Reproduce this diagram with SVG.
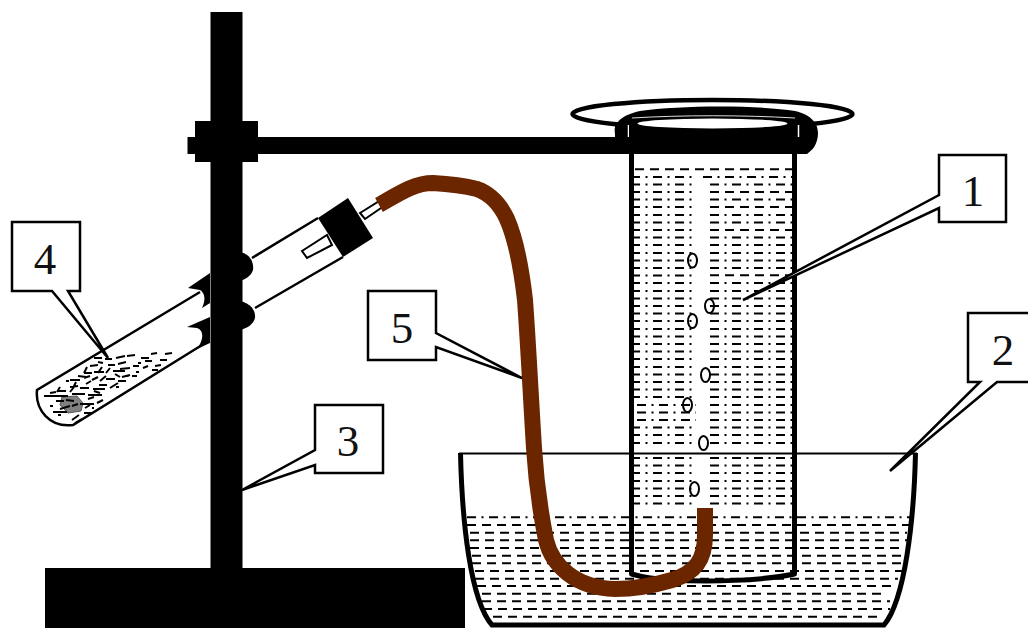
<svg xmlns="http://www.w3.org/2000/svg" width="1028" height="628" viewBox="0 0 1028 628">
<style>
.k{fill:#000}
.o{fill:none;stroke:#000}
.dd{fill:none;stroke:#000;stroke-width:2;stroke-dasharray:9 5.5 2 5.5}
.ds{fill:none;stroke:#000;stroke-width:2;stroke-dasharray:9 6}
.p{fill:none;stroke:#000;stroke-width:2}
.c{fill:#fff;stroke:#000;stroke-width:2.5;stroke-linejoin:miter}
.t{font-family:"Liberation Serif","Times New Roman",serif;font-size:45px;fill:#111;text-anchor:middle}
</style>
<defs><clipPath id="tc"><path d="M37 390L176 306L202 345L73 425C50 428 35 410 37 390Z"/></clipPath></defs>
<rect width="1028" height="628" fill="#fff"/>

<g id="stand">
<rect class="k" x="210.500" y="12" width="32" height="558"/>
<rect class="k" x="45" y="568" width="420" height="60"/>
<rect class="k" x="195" y="121" width="63" height="41"/>
<rect class="k" x="187.500" y="137" width="620" height="17"/>
</g>

<g id="test-tube">
<path class="o" stroke-width="2.500" d="M318 218L252 258M200 292L37 390C35 410 50 428 73 425L202 345M255 308L343 257"/>
<path d="M302 251L327 235L332 245L307 258Z" fill="#fff" stroke="#000" stroke-width="2"/>
<path class="k" d="M318 218L348 198L373 238L343 257Z"/>
<path d="M360 213L381 200L384 206L365 219Z" fill="#fff" stroke="#000" stroke-width="2"/>
<path class="k" d="M210 273L188 288L200 290C205 293 206 300 202 308L210 303V317L187 327L197 328C203 330 205 338 197 349L210 343V300Z"/>
<path class="k" d="M240 252C250 254 254 262 253 270C251 276 246 279 240 281Z"/>
<path class="k" d="M240 301C250 303 256 310 255 318C253 325 247 328 240 330Z"/>
<g clip-path="url(#tc)">
<path d="M62 397L77 396L83 403L81 411L68 413L60 405Z" fill="#808080" stroke="#555" stroke-width="1"/>
<path class="p" d="M94 358h8M105 359h7M116 358l9-2M127 356l8-1M141 358h8M145 361h7M151 354l6-1M165 354l7-1M160 360h7M90 366l8-1M108 365h7M118 364l8-2M133 366h6M143 368l5-2M155 366l6-1M84 373h8M94 372h10M113 371h12M120 369l10-1M136 372h3M152 370h6M87 367l-3 6M102 367l-4 6M110 368l-4 5M66 381h3M70 380h10M84 378l6-2M92 380l6-3M100 381l6-5M106 379h9M118 381h8M122 377l8-2M132 376h5M70 387l8-1M58 391h8M60 387l-3 5M70 392l4-5M80 388h9M86 384l5-3M93 389h12M99 385h8M110 388l8-5M116 387h3M44 396h24M50 393l6-1M72 394h13M88 395h14M94 391l6 2M56 401h8M80 404h14M88 399l6-2M97 403l6-3M53 412h14M50 406h3M60 409l10-3M66 400l8 1M72 406l6-2M84 413h10M85 408l5-3M72 420l7-5M75 423l7-4M87 417l8-5M58 415h3M92 408h2M78 376l8 1M98 362l5 1M125 376h4M76 382l-3 6M115 374l5 3M138 363h3"/>
</g>
</g>

<g id="bath">
<path class="dd" d="M467 517.300H910"/>
<path class="ds" d="M467 525H910M470 532.700H907M470 540.300H907M470 548H903M472 555.700H903M472 563.300H903M475 571H902M475 578.700H898M477 586H897M482 593.700H883M482 601.300H890M483 609H890M493 616.700H880"/>
<path class="o" stroke-width="5" d="M460.500 453C462 520 470 600 492 625H884C905 600 914 520 915.500 453"/>
<path class="o" stroke-width="2" d="M459 453.500H917"/>
</g>

<g id="cylinder">
<path class="ds" stroke-dasharray="8 6" d="M635 169.300H792"/>
<path class="ds" d="M710 192H792M710 207H792M710 230H792M710 275.300H792"/>
<path class="dd" d="M631 177H692M703 177H792M631 184.500H692M710 184.500H792M631 192H692M631 199.500H692M710 199.500H792M631 207H692M631 215H692M710 215H792M631 222.500H692M710 222.500H792M631 230H692M631 237.500H692M710 237.500H792M631 245H692M710 245H792M631 253H692M710 253H792M631 260.500H692M710 260.500H792M631 268H692M710 268H792M631 275.500H692M631 283H692M710 283H792M631 291H692M710 291H792M631 298.500H692M710 298.500H792M631 306H692M710 306H792M631 313.500H692M710 313.500H792M631 321H692M710 321H792M631 329H692M710 329H792M631 336.500H692M710 336.500H792M631 344H692M710 344H792M631 351.500H692M710 351.500H792M631 359H692M710 359H792M631 367H692M710 367H792M631 374.500H692M710 374.500H792M631 382H692M710 382H792M631 389.500H692M710 389.500H792M631 397H692M710 397H792M637 405H696M710 405H792M637 412.500H696M710 412.500H792M637 420H696M710 420H792M631 427.500H692M710 427.500H792M631 435H692M710 435H792M631 443H692M710 443H792M631 458H692M710 458H792M631 465.500H692M710 465.500H792M631 473H692M710 473H792M631 481H692M710 481H792M631 488.500H692M710 488.500H792M631 496H692M710 496H792M631 503.500H692M710 503.500H792"/>
<path class="o" stroke-width="5" stroke-linejoin="round" d="M631.500 145V574C645 578 655 579 670 580C710 582 760 581 794.500 574V145"/>
<ellipse class="o" stroke-width="4.500" cx="712.500" cy="114" rx="140" ry="14"/>
<path class="k" d="M616 137C612 128 616 116 640 111C680 105 760 105 795 111C812 115 818 124 818 133C818 143 813 151 806 154H790V137Z"/>
<rect class="k" x="615" y="123" width="15" height="16"/>
<ellipse cx="712.500" cy="123.500" rx="75" ry="5" fill="#fff"/>
<path class="o" d="M632 118C680 115 745 115 795 118" style="stroke:#ddd"/>
<path d="M628.500 125V137M798.500 125V137" style="stroke:#fff;stroke-width:1.500"/>
<path class="o" stroke-width="5" d="M631.500 125V146M794.500 125V146"/>
<ellipse class="o" stroke-width="2" cx="692.500" cy="260.500" rx="4.500" ry="7"/>
<ellipse class="o" stroke-width="2" cx="709.500" cy="306" rx="4.500" ry="7"/>
<ellipse class="o" stroke-width="2" cx="692.500" cy="321" rx="4.500" ry="7"/>
<ellipse class="o" stroke-width="2" cx="705.500" cy="375" rx="4.500" ry="7"/>
<ellipse class="o" stroke-width="2" cx="687.500" cy="405" rx="4.500" ry="7"/>
<ellipse class="o" stroke-width="2" cx="703.500" cy="443" rx="4.500" ry="7"/>
<ellipse class="o" stroke-width="2" cx="694.500" cy="489" rx="4.500" ry="7"/>
</g>

<g id="tube">
<path fill="none" stroke="#6b2600" stroke-width="16" d="M379 205C397 195 413 183 433 183C450 184 465 186 477 189C491 194 500 204 507 219C514 235 521 265 525 300C528 340 531 400 534 448C536 480 540 510 546 540C552 565 575 588 615 589C635 589 655 585 672 580C695 573 705 560 705 535V508"/>
</g>

<g id="connectors">
<path class="c" d="M939 155H1006V222H939V208L743 300L939 195Z"/>
<path class="c" d="M1030 313H968V382H980L890 471L997 382H1030"/>
<path class="c" d="M315 405H383V473H315V465L242 490L315 450Z"/>
<path class="c" d="M12 222H80V291H68L108 358L52 291H12Z"/>
<path class="c" d="M368 291H436V333L522 378L436 347V360H368Z"/>
</g>

<g id="labels">
<text class="t" x="973" y="206">1</text>
<text class="t" x="1003" y="365">2</text>
<text class="t" x="348" y="456">3</text>
<text class="t" x="45" y="274">4</text>
<text class="t" x="402" y="343">5</text>
</g>
</svg>
